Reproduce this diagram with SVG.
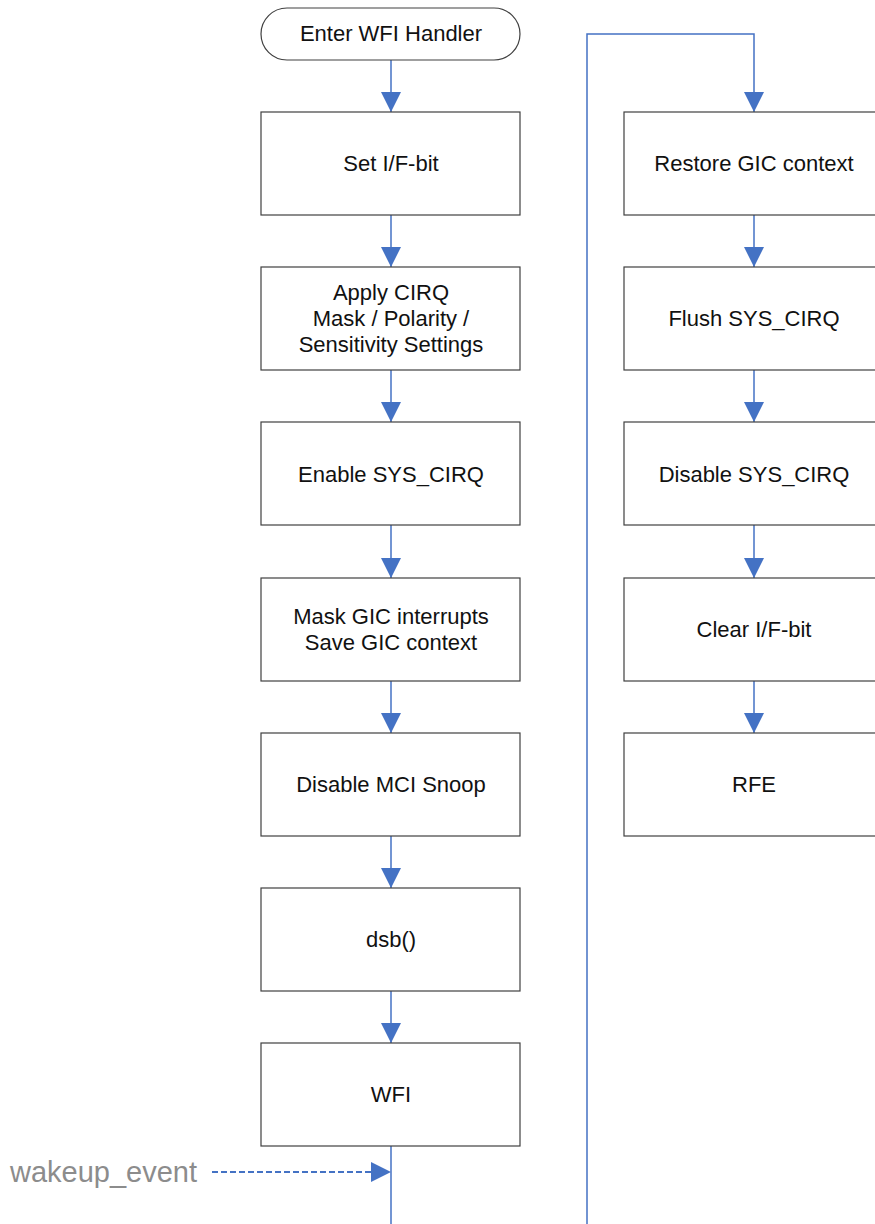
<svg xmlns="http://www.w3.org/2000/svg" width="875" height="1224" viewBox="0 0 875 1224">
  <style>
    .box { fill: #ffffff; stroke: #404040; stroke-width: 1.2; }
    .lbl { font-family: "Liberation Sans", Arial, sans-serif; font-size: 22px; fill: #111111; text-anchor: middle; }
    .flow { fill: none; stroke: #4472C4; stroke-width: 1.5; }
    .dash { fill: none; stroke: #4472C4; stroke-width: 2; stroke-dasharray: 6 3; }
    .side { font-family: "Liberation Sans", Arial, sans-serif; font-size: 29px; fill: #8c8c8c; }
  </style>
  <defs>
    <marker id="arr" markerUnits="userSpaceOnUse" markerWidth="20" markerHeight="20" refX="20" refY="10" orient="auto">
      <path d="M0,0 L20,10 L0,20 Z" fill="#4472C4"/>
    </marker>
  </defs>
  <rect width="875" height="1224" fill="#ffffff"/>

  <!-- connectors -->
  <g id="connectors">
    <line class="flow" x1="391" y1="60" x2="391" y2="112" marker-end="url(#arr)"/>
    <line class="flow" x1="391" y1="215" x2="391" y2="267" marker-end="url(#arr)"/>
    <line class="flow" x1="391" y1="370" x2="391" y2="422" marker-end="url(#arr)"/>
    <line class="flow" x1="391" y1="525" x2="391" y2="578" marker-end="url(#arr)"/>
    <line class="flow" x1="391" y1="681" x2="391" y2="733" marker-end="url(#arr)"/>
    <line class="flow" x1="391" y1="836" x2="391" y2="888" marker-end="url(#arr)"/>
    <line class="flow" x1="391" y1="991" x2="391" y2="1043" marker-end="url(#arr)"/>
    <line class="flow" x1="391" y1="1146" x2="391" y2="1224"/>
    <polyline class="flow" points="587,1224 587,34 754,34 754,112" marker-end="url(#arr)"/>
    <line class="flow" x1="754" y1="215" x2="754" y2="267" marker-end="url(#arr)"/>
    <line class="flow" x1="754" y1="370" x2="754" y2="422" marker-end="url(#arr)"/>
    <line class="flow" x1="754" y1="525" x2="754" y2="578" marker-end="url(#arr)"/>
    <line class="flow" x1="754" y1="681" x2="754" y2="733" marker-end="url(#arr)"/>
    <line class="dash" x1="212" y1="1172" x2="391" y2="1172" marker-end="url(#arr)"/>
  </g>

  <!-- left column -->
  <g id="n-enter">
    <rect class="box" x="261" y="8" width="259" height="52" rx="26" ry="26"/>
    <text class="lbl" x="391" y="41">Enter WFI Handler</text>
  </g>
  <g id="n-setif">
    <rect class="box" x="261" y="112" width="259" height="103"/>
    <text class="lbl" x="391" y="171">Set I/F-bit</text>
  </g>
  <g id="n-cirq">
    <rect class="box" x="261" y="267" width="259" height="103"/>
    <text class="lbl" x="391" y="300">Apply CIRQ</text>
    <text class="lbl" x="391" y="326">Mask / Polarity /</text>
    <text class="lbl" x="391" y="352">Sensitivity Settings</text>
  </g>
  <g id="n-enable">
    <rect class="box" x="261" y="422" width="259" height="103"/>
    <text class="lbl" x="391" y="482">Enable SYS_CIRQ</text>
  </g>
  <g id="n-mask">
    <rect class="box" x="261" y="578" width="259" height="103"/>
    <text class="lbl" x="391" y="624">Mask GIC interrupts</text>
    <text class="lbl" x="391" y="650">Save GIC context</text>
  </g>
  <g id="n-snoop">
    <rect class="box" x="261" y="733" width="259" height="103"/>
    <text class="lbl" x="391" y="792">Disable MCI Snoop</text>
  </g>
  <g id="n-dsb">
    <rect class="box" x="261" y="888" width="259" height="103"/>
    <text class="lbl" x="391" y="947">dsb()</text>
  </g>
  <g id="n-wfi">
    <rect class="box" x="261" y="1043" width="259" height="103"/>
    <text class="lbl" x="391" y="1102">WFI</text>
  </g>

  <!-- right column -->
  <g id="n-restore">
    <rect class="box" x="624" y="112" width="260" height="103"/>
    <text class="lbl" x="754" y="171">Restore GIC context</text>
  </g>
  <g id="n-flush">
    <rect class="box" x="624" y="267" width="260" height="103"/>
    <text class="lbl" x="754" y="326">Flush SYS_CIRQ</text>
  </g>
  <g id="n-disable">
    <rect class="box" x="624" y="422" width="260" height="103"/>
    <text class="lbl" x="754" y="482">Disable SYS_CIRQ</text>
  </g>
  <g id="n-clear">
    <rect class="box" x="624" y="578" width="260" height="103"/>
    <text class="lbl" x="754" y="637">Clear I/F-bit</text>
  </g>
  <g id="n-rfe">
    <rect class="box" x="624" y="733" width="260" height="103"/>
    <text class="lbl" x="754" y="792">RFE</text>
  </g>

  <g id="n-wakeup">
    <text class="side" x="10" y="1182">wakeup_event</text>
  </g>
</svg>
